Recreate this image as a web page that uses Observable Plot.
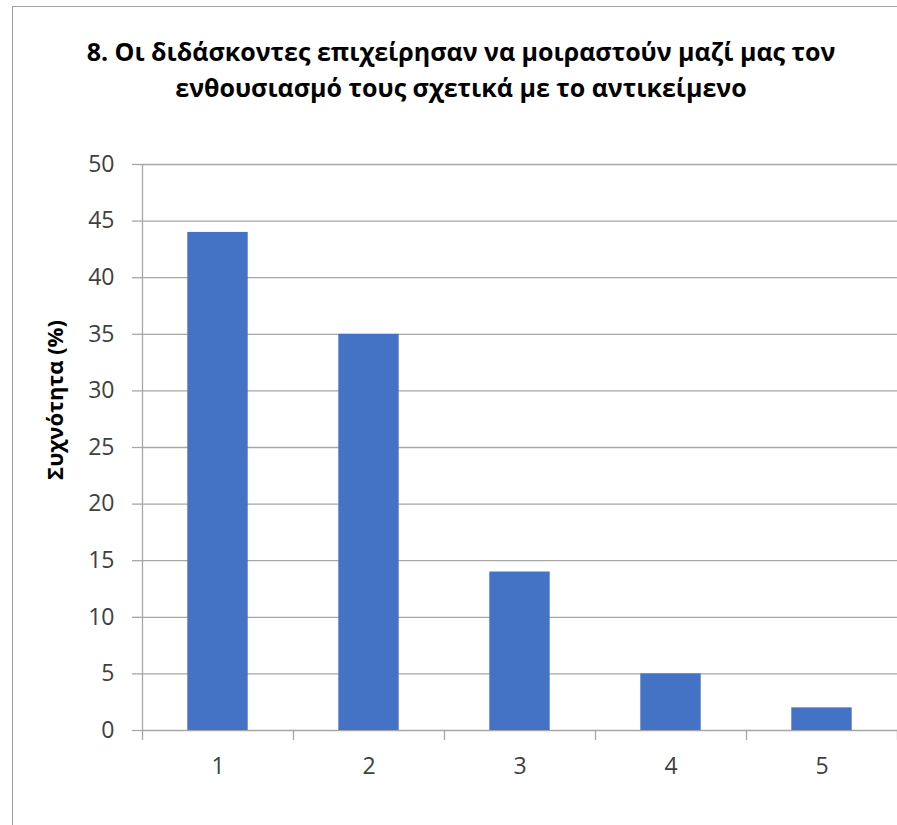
<!DOCTYPE html>
<html><head><meta charset="utf-8">
<script src="https://cdn.jsdelivr.net/npm/d3@7"></script>
<script src="https://cdn.jsdelivr.net/npm/@observablehq/plot@0.6"></script>
<style>
body{margin:0;background:#fff;}
#wrap{position:relative;width:897px;height:825px;overflow:hidden;font-family:"Open Sans",sans-serif;}
#frame{position:absolute;left:12px;top:6px;width:960px;height:900px;border:1.5px solid #a0a0a0;box-sizing:border-box;}
#title{position:absolute;left:12px;width:898px;top:33px;text-align:center;font-weight:bold;font-size:25px;line-height:36px;color:#000;white-space:nowrap;}
#ylabel{position:absolute;left:54px;top:400px;transform:translate(-50%,-50%) rotate(-90deg);font-weight:bold;font-size:22px;color:#000;white-space:nowrap;}
#chart{position:absolute;left:0;top:0;}
</style></head>
<body>
<div id="wrap">
  <div id="frame"></div>
  <div id="chart"></div>
  <div id="title">8. Οι διδάσκοντες επιχείρησαν να μοιραστούν μαζί μας τον<br>ενθουσιασμό τους σχετικά με το αντικείμενο</div>
  <div id="ylabel">Συχνότητα (%)</div>
</div>
<script>
const categories = [1, 2, 3, 4, 5];
const values = [44, 35, 14, 5, 2];
const yTicks = [0, 5, 10, 15, 20, 25, 30, 35, 40, 45, 50];

const data = categories.map((c, i) => ({c, v: values[i]}));
const boundaries = [categories[0] - 0.5, ...categories.map(c => c + 0.5)];
const half = 0.2;

const plot = Plot.plot({
  width: 897, height: 825,
  marginLeft: 142, marginRight: 0, marginTop: 164, marginBottom: 95,
  style: {fontFamily: "Open Sans, sans-serif", fontSize: "23px", background: "transparent", overflow: "visible"},
  x: {domain: [categories[0] - 0.5, categories[categories.length - 1] + 0.5], axis: null},
  y: {domain: [0, 50], axis: null},
  marks: [
    Plot.ruleY(yTicks, {stroke: "#a6a6a6", strokeWidth: 1.3}),
    Plot.ruleX([boundaries[0]], {stroke: "#a6a6a6", strokeWidth: 1.3}),
    Plot.rectY(data, {x1: d => d.c - half, x2: d => d.c + half, y1: 0, y2: "v", fill: "#4472C4"}),
    Plot.axisY({ticks: yTicks, tickSize: 10, tickPadding: 18, stroke: "#a6a6a6", strokeWidth: 1.3, fill: "#404040", label: null, tickFormat: d => String(d)}),
    Plot.axisX({ticks: categories, tickSize: 0, tickPadding: 27, fill: "#404040", label: null, tickFormat: d => String(d)}),
    Plot.axisX({ticks: boundaries, tickSize: 10, tickFormat: () => "", stroke: "#a6a6a6", strokeWidth: 1.3, label: null})
  ]
});
document.getElementById("chart").appendChild(plot);
</script>
</body></html>
